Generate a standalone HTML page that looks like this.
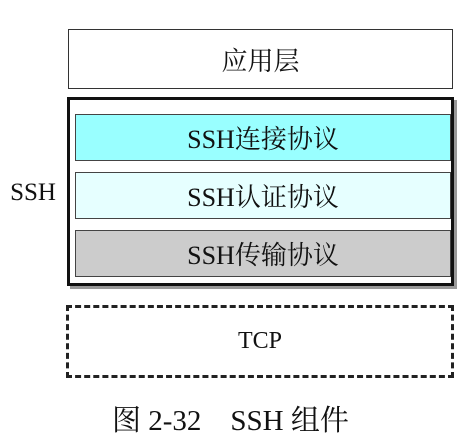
<!DOCTYPE html>
<html><head><meta charset="utf-8"><style>
body{margin:0;width:464px;height:444px;background:#fff;position:relative;overflow:hidden;font-family:"Liberation Serif","Noto Serif CJK SC",serif;color:#111}
.b{position:absolute;box-sizing:border-box;display:flex;align-items:center;justify-content:center;font-size:26px}
</style></head><body>
<div class="b" style="left:68px;top:29px;width:385px;height:60px;border:1.5px solid #333">应用层</div>
<div class="b" style="left:67px;top:97px;width:387px;height:189px;border:3px solid #111;box-shadow:3px 3px 0 #999"></div>
<div class="b" style="left:75px;top:114px;width:376px;height:47px;border:1.5px solid #444;background:#99ffff">SSH连接协议</div>
<div class="b" style="left:75px;top:172px;width:376px;height:47px;border:1.5px solid #444;background:#e6ffff">SSH认证协议</div>
<div class="b" style="left:75px;top:230px;width:376px;height:47px;border:1.5px solid #444;background:#cccccc">SSH传输协议</div>
<div class="b" style="left:3px;top:176px;width:60px;height:34px;font-size:25px">SSH</div>
<div class="b" style="left:66px;top:305px;width:388px;height:73px;border:3px dashed #222;font-size:24px">TCP</div>
<div class="b" style="left:0;top:398px;width:464px;height:40px;font-size:29px;justify-content:flex-start;padding-left:112px;white-space:pre">图 2-32    SSH 组件</div>
</body></html>
